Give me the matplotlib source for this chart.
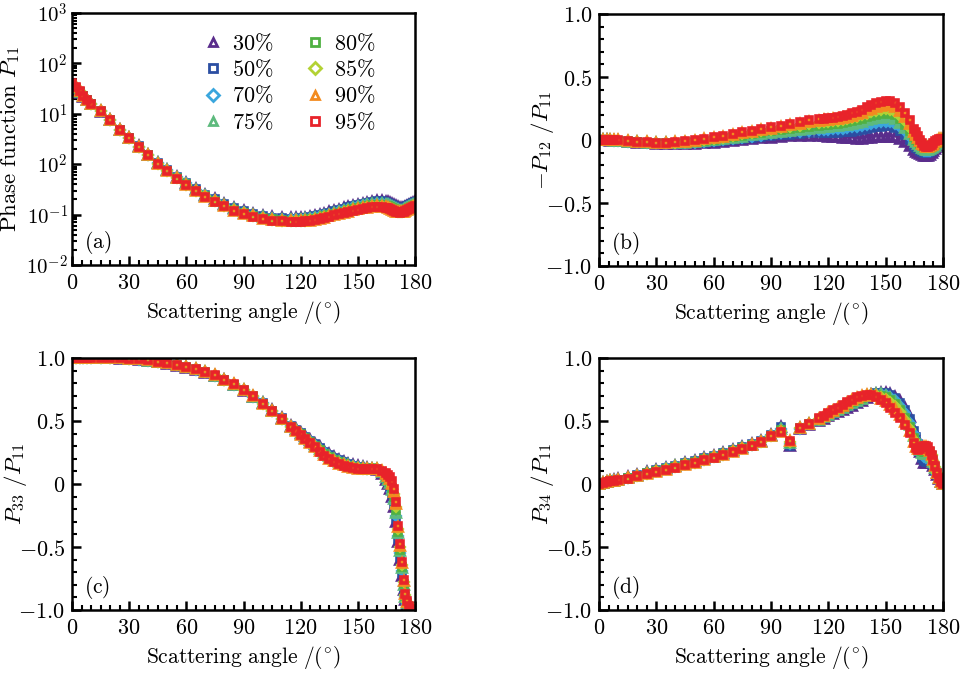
import matplotlib
matplotlib.use("Agg")
import matplotlib.pyplot as plt
from matplotlib.ticker import FixedLocator, MultipleLocator, LogLocator, NullFormatter

plt.rcParams['mathtext.fontset'] = 'cm'
plt.rcParams['font.family'] = 'serif'
plt.rcParams['axes.linewidth'] = 1.8

# scattering angles (deg), shared by all series
angles = [0, 2, 4, 6, 8, 10,
          15, 20, 25, 30, 35, 40, 45, 50, 55, 60, 65, 70, 75, 80, 85, 90, 95, 100, 105, 110,
          115, 117.5, 120, 122.5, 125, 127.5, 130, 132.5, 135, 137.5, 140, 142.5, 145, 147.5,
          150, 152.5, 155, 157.5, 160, 162.5, 165,
          166, 167, 168, 169, 170, 171, 172, 173, 174, 175, 176, 177, 178, 179, 180]

labels = ['30%', '50%', '70%', '75%', '80%', '85%', '90%', '95%']
colors = ['#5a2d8c', '#2b4ea2', '#3aa6dd', '#5dba7d', '#4fb142', '#b3d234', '#f38b1f', '#e8232a']
markers = ['^', 's', 'D', '^', 's', 'D', '^', 's']

# (a) phase function P11, one row per series (legend order)
p11 = [
    [33, 30, 26, 22, 18.5, 15.5,
     11, 7.4, 4.8, 3.3, 2.25, 1.55, 1.07, 0.78, 0.57, 0.43, 0.32, 0.25, 0.2, 0.163, 0.136, 0.117, 0.103, 0.094, 0.088, 0.085,
     0.084, 0.084, 0.085, 0.087, 0.09, 0.094, 0.099, 0.105, 0.111, 0.118, 0.125, 0.133, 0.141, 0.149, 0.157, 0.165, 0.172, 0.179, 0.185, 0.186, 0.18,
     0.175, 0.168, 0.16, 0.152, 0.145, 0.139, 0.135, 0.135, 0.138, 0.143, 0.149, 0.156, 0.163, 0.17, 0.178],
    [34, 31, 26.5, 22.5, 18.8, 15.7,
     11.1, 7.4, 4.8, 3.3, 2.25, 1.55, 1.07, 0.78, 0.57, 0.43, 0.32, 0.25, 0.2, 0.162, 0.135, 0.116, 0.102, 0.093, 0.087, 0.084,
     0.083, 0.083, 0.084, 0.086, 0.089, 0.093, 0.098, 0.103, 0.109, 0.116, 0.123, 0.131, 0.139, 0.147, 0.155, 0.162, 0.169, 0.176, 0.182, 0.183, 0.177,
     0.172, 0.165, 0.157, 0.15, 0.143, 0.137, 0.133, 0.133, 0.136, 0.141, 0.147, 0.154, 0.161, 0.168, 0.175],
    [35, 32, 27, 22.8, 18.9, 15.8,
     11.2, 7.5, 4.8, 3.3, 2.24, 1.54, 1.05, 0.76, 0.55, 0.415, 0.31, 0.24, 0.193, 0.157, 0.13, 0.112, 0.099, 0.09, 0.084, 0.081,
     0.08, 0.08, 0.081, 0.082, 0.085, 0.089, 0.093, 0.098, 0.104, 0.11, 0.117, 0.124, 0.131, 0.139, 0.146, 0.153, 0.16, 0.166, 0.171, 0.172, 0.166,
     0.161, 0.155, 0.148, 0.141, 0.134, 0.129, 0.125, 0.125, 0.128, 0.133, 0.139, 0.146, 0.153, 0.16, 0.167],
    [36, 32.5, 27.3, 22.9, 19, 15.9,
     11.3, 7.5, 4.8, 3.3, 2.23, 1.53, 1.04, 0.75, 0.54, 0.41, 0.305, 0.236, 0.19, 0.154, 0.127, 0.11, 0.097, 0.088, 0.082, 0.079,
     0.078, 0.078, 0.079, 0.08, 0.083, 0.086, 0.09, 0.095, 0.1, 0.106, 0.112, 0.119, 0.126, 0.133, 0.14, 0.147, 0.153, 0.159, 0.163, 0.164, 0.158,
     0.153, 0.147, 0.14, 0.134, 0.128, 0.123, 0.12, 0.12, 0.123, 0.127, 0.133, 0.14, 0.147, 0.154, 0.161],
    [37, 33, 27.6, 23, 19, 16,
     11.4, 7.5, 4.8, 3.3, 2.22, 1.52, 1.03, 0.74, 0.535, 0.4, 0.3, 0.233, 0.187, 0.151, 0.124, 0.108, 0.095, 0.086, 0.08, 0.077,
     0.076, 0.076, 0.077, 0.078, 0.08, 0.083, 0.087, 0.092, 0.097, 0.102, 0.108, 0.115, 0.121, 0.128, 0.134, 0.141, 0.147, 0.152, 0.156, 0.156, 0.151,
     0.146, 0.14, 0.134, 0.128, 0.122, 0.118, 0.115, 0.115, 0.118, 0.122, 0.128, 0.134, 0.141, 0.148, 0.155],
    [38, 33.5, 27.8, 23, 19, 16,
     11.4, 7.6, 4.8, 3.3, 2.21, 1.51, 1.02, 0.73, 0.53, 0.395, 0.295, 0.23, 0.184, 0.148, 0.122, 0.106, 0.093, 0.084, 0.078, 0.075,
     0.074, 0.074, 0.075, 0.076, 0.078, 0.081, 0.085, 0.089, 0.094, 0.099, 0.105, 0.111, 0.117, 0.124, 0.13, 0.136, 0.141, 0.146, 0.149, 0.149, 0.144,
     0.139, 0.134, 0.128, 0.122, 0.117, 0.114, 0.112, 0.113, 0.116, 0.12, 0.125, 0.131, 0.138, 0.145, 0.152],
    [39, 34, 28, 23, 19, 16,
     11.5, 7.6, 4.8, 3.3, 2.2, 1.5, 1.01, 0.725, 0.525, 0.39, 0.292, 0.227, 0.182, 0.146, 0.12, 0.104, 0.092, 0.083, 0.077, 0.074,
     0.073, 0.073, 0.073, 0.074, 0.076, 0.079, 0.083, 0.087, 0.092, 0.097, 0.103, 0.109, 0.115, 0.121, 0.127, 0.133, 0.138, 0.142, 0.145, 0.144, 0.14,
     0.135, 0.13, 0.125, 0.12, 0.115, 0.112, 0.111, 0.112, 0.115, 0.119, 0.124, 0.13, 0.137, 0.144, 0.151],
    [40, 34, 28, 23, 19, 16,
     11.5, 7.6, 4.8, 3.3, 2.2, 1.5, 1.0, 0.72, 0.52, 0.385, 0.29, 0.225, 0.18, 0.145, 0.119, 0.103, 0.091, 0.082, 0.076, 0.073,
     0.072, 0.072, 0.072, 0.073, 0.075, 0.078, 0.082, 0.086, 0.091, 0.096, 0.102, 0.108, 0.114, 0.12, 0.126, 0.131, 0.136, 0.14, 0.143, 0.142, 0.137,
     0.133, 0.128, 0.123, 0.118, 0.114, 0.111, 0.11, 0.111, 0.114, 0.118, 0.123, 0.129, 0.136, 0.143, 0.15],
]

# (b) -P12/P11
p12 = [
    [0, 0, 0, -0.005, -0.008, -0.01,
     -0.015, -0.02, -0.025, -0.03, -0.032, -0.033, -0.032, -0.03, -0.027, -0.022, -0.017, -0.01, -0.003, 0.005, 0.012, 0.018, 0.024, 0.028, 0.031, 0.032,
     0.031, 0.029, 0.027, 0.024, 0.02, 0.017, 0.014, 0.012, 0.011, 0.011, 0.013, 0.016, 0.02, 0.024, 0.027, 0.026, 0.02, 0.005, -0.015, -0.045, -0.08,
     -0.092, -0.103, -0.112, -0.12, -0.125, -0.127, -0.125, -0.118, -0.105, -0.09, -0.072, -0.055, -0.037, -0.02, 0.0],
    [0, 0, 0, -0.004, -0.007, -0.009,
     -0.014, -0.019, -0.024, -0.028, -0.03, -0.03, -0.028, -0.025, -0.021, -0.015, -0.009, -0.002, 0.006, 0.014, 0.022, 0.03, 0.037, 0.043, 0.048, 0.052,
     0.055, 0.056, 0.057, 0.058, 0.059, 0.06, 0.062, 0.066, 0.071, 0.078, 0.085, 0.092, 0.1, 0.106, 0.11, 0.108, 0.098, 0.075, 0.04, 0.0, -0.045,
     -0.06, -0.073, -0.085, -0.095, -0.102, -0.105, -0.104, -0.098, -0.087, -0.073, -0.057, -0.041, -0.026, -0.012, 0.0],
    [0, 0, 0, -0.003, -0.006, -0.008,
     -0.013, -0.018, -0.022, -0.026, -0.027, -0.026, -0.024, -0.02, -0.015, -0.008, -0.001, 0.008, 0.017, 0.026, 0.035, 0.044, 0.052, 0.06, 0.066, 0.072,
     0.077, 0.08, 0.083, 0.085, 0.088, 0.091, 0.095, 0.1, 0.106, 0.113, 0.12, 0.127, 0.134, 0.139, 0.142, 0.14, 0.128, 0.104, 0.068, 0.025, -0.02,
     -0.037, -0.052, -0.066, -0.077, -0.085, -0.089, -0.089, -0.085, -0.076, -0.064, -0.05, -0.036, -0.023, -0.011, 0.0],
    [0, 0, 0, -0.002, -0.005, -0.007,
     -0.012, -0.017, -0.021, -0.024, -0.025, -0.024, -0.021, -0.016, -0.01, -0.003, 0.005, 0.015, 0.026, 0.036, 0.047, 0.057, 0.066, 0.075, 0.083, 0.09,
     0.097, 0.101, 0.105, 0.108, 0.112, 0.116, 0.121, 0.128, 0.136, 0.145, 0.155, 0.164, 0.172, 0.178, 0.182, 0.18, 0.166, 0.138, 0.097, 0.05, 0.0,
     -0.018, -0.035, -0.05, -0.062, -0.071, -0.076, -0.077, -0.074, -0.067, -0.056, -0.044, -0.031, -0.019, -0.008, 0.0],
    [0, 0, 0, -0.002, -0.004, -0.005,
     -0.011, -0.016, -0.02, -0.023, -0.024, -0.022, -0.018, -0.012, -0.005, 0.003, 0.012, 0.023, 0.035, 0.046, 0.058, 0.068, 0.079, 0.089, 0.098, 0.106,
     0.114, 0.118, 0.122, 0.126, 0.13, 0.135, 0.141, 0.149, 0.158, 0.169, 0.18, 0.19, 0.2, 0.207, 0.211, 0.209, 0.195, 0.165, 0.122, 0.072, 0.02,
     0.0, -0.018, -0.034, -0.047, -0.057, -0.063, -0.065, -0.063, -0.057, -0.047, -0.036, -0.024, -0.013, -0.004, 0.0],
    [0, 0, 0, -0.001, -0.002, -0.003,
     -0.01, -0.015, -0.019, -0.022, -0.022, -0.02, -0.015, -0.008, 0.0, 0.009, 0.019, 0.031, 0.044, 0.057, 0.069, 0.08, 0.093, 0.104, 0.115, 0.125,
     0.134, 0.139, 0.144, 0.148, 0.152, 0.158, 0.165, 0.174, 0.184, 0.196, 0.209, 0.22, 0.231, 0.239, 0.244, 0.242, 0.226, 0.194, 0.148, 0.096, 0.04,
     0.018, 0.0, -0.017, -0.031, -0.042, -0.05, -0.053, -0.052, -0.047, -0.038, -0.027, -0.016, -0.006, 0.002, 0.0],
    [0, 0, 0, 0, -0.001, -0.002,
     -0.01, -0.014, -0.018, -0.021, -0.021, -0.019, -0.012, -0.004, 0.005, 0.014, 0.025, 0.038, 0.052, 0.066, 0.08, 0.09, 0.104, 0.117, 0.128, 0.14,
     0.15, 0.155, 0.16, 0.163, 0.167, 0.174, 0.183, 0.193, 0.205, 0.218, 0.235, 0.248, 0.261, 0.27, 0.277, 0.276, 0.26, 0.23, 0.181, 0.128, 0.065,
     0.04, 0.015, -0.008, -0.028, -0.043, -0.052, -0.054, -0.051, -0.043, -0.031, -0.018, -0.007, 0.004, 0.007, 0.0],
    [0, 0, 0, 0, 0, 0,
     -0.01, -0.013, -0.018, -0.02, -0.02, -0.018, -0.01, 0.0, 0.01, 0.02, 0.03, 0.045, 0.06, 0.075, 0.09, 0.1, 0.115, 0.13, 0.14, 0.155,
     0.165, 0.17, 0.175, 0.178, 0.182, 0.19, 0.2, 0.212, 0.225, 0.24, 0.26, 0.275, 0.29, 0.3, 0.31, 0.31, 0.295, 0.265, 0.215, 0.16, 0.09,
     0.06, 0.03, 0.0, -0.025, -0.045, -0.055, -0.055, -0.05, -0.04, -0.025, -0.01, 0.0, 0.01, 0.01, 0.0],
]

# (c) P33/P11
p33 = [
    [1, 1, 1, 1, 1, 1,
     1.0, 0.999, 0.996, 0.992, 0.986, 0.977, 0.966, 0.954, 0.94, 0.923, 0.905, 0.883, 0.856, 0.823, 0.786, 0.742, 0.694, 0.64, 0.584, 0.522,
     0.462, 0.434, 0.406, 0.377, 0.348, 0.319, 0.29, 0.262, 0.237, 0.214, 0.194, 0.177, 0.162, 0.15, 0.14, 0.132, 0.126, 0.12, 0.112, 0.08, 0.03,
     0.0, -0.04, -0.1, -0.18, -0.3, -0.46, -0.6, -0.73, -0.84, -0.92, -0.96, -0.985, -0.995, -1.0, -1.0],
    [1, 1, 1, 1, 1, 1,
     1.0, 0.999, 0.996, 0.992, 0.986, 0.977, 0.966, 0.954, 0.94, 0.923, 0.905, 0.883, 0.856, 0.823, 0.786, 0.742, 0.694, 0.64, 0.583, 0.52,
     0.46, 0.431, 0.403, 0.373, 0.344, 0.314, 0.285, 0.257, 0.232, 0.209, 0.189, 0.172, 0.158, 0.146, 0.137, 0.129, 0.124, 0.121, 0.115, 0.085, 0.04,
     0.012, -0.025, -0.083, -0.16, -0.28, -0.44, -0.58, -0.71, -0.83, -0.91, -0.955, -0.98, -0.995, -1.0, -1.0],
    [1, 1, 1, 1, 1, 1,
     1.0, 0.999, 0.997, 0.993, 0.988, 0.979, 0.969, 0.957, 0.943, 0.926, 0.908, 0.886, 0.858, 0.825, 0.788, 0.743, 0.694, 0.639, 0.582, 0.518,
     0.457, 0.428, 0.399, 0.369, 0.339, 0.309, 0.279, 0.25, 0.225, 0.202, 0.182, 0.166, 0.152, 0.141, 0.133, 0.127, 0.123, 0.122, 0.118, 0.09, 0.05,
     0.025, -0.01, -0.065, -0.14, -0.25, -0.41, -0.55, -0.69, -0.81, -0.9, -0.95, -0.98, -0.993, -1.0, -1.0],
    [1, 1, 1, 1, 1, 1,
     1.0, 1.0, 0.997, 0.994, 0.989, 0.98, 0.97, 0.958, 0.945, 0.928, 0.91, 0.888, 0.86, 0.826, 0.788, 0.744, 0.694, 0.639, 0.581, 0.517,
     0.456, 0.426, 0.397, 0.366, 0.336, 0.305, 0.274, 0.245, 0.219, 0.197, 0.177, 0.161, 0.148, 0.138, 0.13, 0.125, 0.122, 0.123, 0.121, 0.093, 0.058,
     0.035, 0.005, -0.05, -0.12, -0.23, -0.39, -0.53, -0.67, -0.8, -0.9, -0.948, -0.978, -0.993, -1.0, -1.0],
    [1, 1, 1, 1, 1, 1,
     1.0, 1.0, 0.998, 0.994, 0.99, 0.981, 0.971, 0.959, 0.946, 0.929, 0.911, 0.889, 0.861, 0.827, 0.789, 0.744, 0.695, 0.638, 0.581, 0.516,
     0.455, 0.424, 0.395, 0.363, 0.332, 0.301, 0.27, 0.24, 0.214, 0.192, 0.172, 0.157, 0.145, 0.135, 0.128, 0.124, 0.122, 0.124, 0.123, 0.096, 0.065,
     0.045, 0.018, -0.035, -0.1, -0.21, -0.38, -0.52, -0.66, -0.79, -0.89, -0.945, -0.977, -0.992, -1.0, -1.0],
    [1, 1, 1, 1, 1, 1,
     1.0, 1.0, 0.998, 0.995, 0.99, 0.982, 0.972, 0.96, 0.947, 0.93, 0.912, 0.89, 0.862, 0.828, 0.79, 0.745, 0.695, 0.638, 0.58, 0.515,
     0.453, 0.422, 0.392, 0.36, 0.328, 0.297, 0.265, 0.234, 0.208, 0.186, 0.167, 0.152, 0.14, 0.131, 0.125, 0.121, 0.12, 0.122, 0.123, 0.099, 0.073,
     0.055, 0.03, -0.015, -0.08, -0.18, -0.36, -0.5, -0.64, -0.78, -0.88, -0.94, -0.975, -0.991, -1.0, -1.0],
    [1, 1, 1, 1, 1, 1,
     1.0, 1.0, 0.998, 0.995, 0.99, 0.982, 0.972, 0.96, 0.947, 0.93, 0.912, 0.89, 0.862, 0.828, 0.79, 0.745, 0.695, 0.638, 0.58, 0.515,
     0.452, 0.42, 0.39, 0.357, 0.325, 0.293, 0.26, 0.228, 0.202, 0.18, 0.161, 0.147, 0.136, 0.127, 0.121, 0.118, 0.118, 0.12, 0.122, 0.102, 0.082,
     0.065, 0.043, 0.003, -0.06, -0.16, -0.345, -0.49, -0.63, -0.77, -0.875, -0.935, -0.972, -0.99, -1.0, -1.0],
    [1, 1, 1, 1, 1, 1,
     1.0, 1.0, 0.998, 0.995, 0.99, 0.982, 0.972, 0.96, 0.947, 0.93, 0.912, 0.89, 0.862, 0.828, 0.79, 0.745, 0.695, 0.638, 0.58, 0.515,
     0.45, 0.418, 0.388, 0.355, 0.322, 0.29, 0.256, 0.222, 0.196, 0.175, 0.156, 0.142, 0.132, 0.124, 0.118, 0.116, 0.116, 0.118, 0.12, 0.105, 0.09,
     0.075, 0.055, 0.02, -0.04, -0.14, -0.33, -0.48, -0.62, -0.76, -0.87, -0.93, -0.97, -0.99, -1.0, -1.0],
]

# (d) P34/P11
p34 = [
    [0, 0.008, 0.016, 0.023, 0.03, 0.036,
     0.052, 0.072, 0.092, 0.11, 0.128, 0.146, 0.165, 0.182, 0.205, 0.225, 0.245, 0.27, 0.293, 0.317, 0.342, 0.39, 0.455, 0.3, 0.435, 0.468,
     0.5, 0.518, 0.537, 0.555, 0.573, 0.59, 0.606, 0.622, 0.64, 0.66, 0.683, 0.703, 0.718, 0.726, 0.724, 0.713, 0.69, 0.655, 0.6, 0.53, 0.43,
     0.38, 0.32, 0.25, 0.2, 0.17, 0.165, 0.175, 0.18, 0.17, 0.14, 0.11, 0.075, 0.04, 0.012, 0.0],
    [0, 0.008, 0.016, 0.022, 0.029, 0.035,
     0.051, 0.071, 0.091, 0.109, 0.127, 0.145, 0.164, 0.18, 0.203, 0.223, 0.243, 0.268, 0.291, 0.315, 0.34, 0.389, 0.45, 0.305, 0.437, 0.47,
     0.503, 0.521, 0.54, 0.558, 0.576, 0.594, 0.61, 0.627, 0.645, 0.665, 0.688, 0.706, 0.72, 0.726, 0.722, 0.709, 0.683, 0.645, 0.588, 0.515, 0.42,
     0.37, 0.315, 0.255, 0.21, 0.18, 0.175, 0.185, 0.19, 0.178, 0.148, 0.115, 0.078, 0.042, 0.013, 0.0],
    [0, 0.008, 0.015, 0.022, 0.028, 0.034,
     0.049, 0.069, 0.088, 0.106, 0.124, 0.142, 0.161, 0.177, 0.2, 0.22, 0.239, 0.265, 0.289, 0.313, 0.338, 0.386, 0.44, 0.315, 0.44, 0.473,
     0.507, 0.525, 0.545, 0.563, 0.582, 0.6, 0.618, 0.635, 0.653, 0.672, 0.694, 0.708, 0.717, 0.718, 0.71, 0.693, 0.663, 0.622, 0.562, 0.487, 0.395,
     0.35, 0.31, 0.265, 0.235, 0.215, 0.21, 0.215, 0.215, 0.2, 0.165, 0.125, 0.083, 0.045, 0.014, 0.0],
    [0, 0.008, 0.015, 0.021, 0.027, 0.033,
     0.048, 0.067, 0.086, 0.104, 0.122, 0.14, 0.159, 0.175, 0.198, 0.218, 0.237, 0.263, 0.287, 0.311, 0.336, 0.384, 0.435, 0.322, 0.441, 0.475,
     0.51, 0.528, 0.549, 0.568, 0.587, 0.606, 0.624, 0.642, 0.66, 0.678, 0.698, 0.709, 0.714, 0.712, 0.702, 0.683, 0.651, 0.608, 0.547, 0.47, 0.38,
     0.34, 0.305, 0.27, 0.245, 0.235, 0.235, 0.24, 0.235, 0.215, 0.175, 0.13, 0.085, 0.046, 0.014, 0.0],
    [0, 0.007, 0.015, 0.021, 0.027, 0.032,
     0.047, 0.066, 0.084, 0.102, 0.12, 0.138, 0.157, 0.173, 0.196, 0.216, 0.235, 0.261, 0.285, 0.309, 0.334, 0.382, 0.43, 0.328, 0.442, 0.476,
     0.513, 0.531, 0.553, 0.573, 0.592, 0.612, 0.63, 0.649, 0.667, 0.684, 0.701, 0.709, 0.709, 0.702, 0.69, 0.669, 0.635, 0.59, 0.527, 0.45, 0.365,
     0.325, 0.3, 0.275, 0.26, 0.255, 0.255, 0.258, 0.25, 0.225, 0.182, 0.135, 0.087, 0.047, 0.015, 0.0],
    [0, 0.007, 0.014, 0.02, 0.026, 0.031,
     0.045, 0.064, 0.082, 0.1, 0.118, 0.135, 0.155, 0.17, 0.194, 0.214, 0.232, 0.259, 0.283, 0.307, 0.332, 0.38, 0.422, 0.335, 0.443, 0.477,
     0.516, 0.534, 0.557, 0.578, 0.598, 0.618, 0.638, 0.657, 0.675, 0.69, 0.704, 0.708, 0.703, 0.69, 0.674, 0.651, 0.617, 0.573, 0.51, 0.435, 0.35,
     0.31, 0.29, 0.278, 0.275, 0.275, 0.275, 0.275, 0.255, 0.228, 0.185, 0.137, 0.088, 0.048, 0.015, 0.0],
    [0, 0.007, 0.014, 0.02, 0.025, 0.03,
     0.044, 0.062, 0.08, 0.097, 0.115, 0.132, 0.152, 0.167, 0.192, 0.212, 0.23, 0.257, 0.281, 0.306, 0.331, 0.379, 0.416, 0.34, 0.444, 0.478,
     0.518, 0.537, 0.56, 0.582, 0.602, 0.623, 0.644, 0.664, 0.682, 0.695, 0.706, 0.707, 0.696, 0.678, 0.657, 0.629, 0.592, 0.55, 0.49, 0.42, 0.337,
     0.297, 0.28, 0.277, 0.287, 0.292, 0.292, 0.287, 0.258, 0.229, 0.188, 0.139, 0.089, 0.049, 0.015, 0.0],
    [0, 0.007, 0.014, 0.02, 0.025, 0.03,
     0.042, 0.06, 0.078, 0.095, 0.113, 0.13, 0.15, 0.165, 0.19, 0.21, 0.228, 0.255, 0.28, 0.305, 0.33, 0.378, 0.41, 0.345, 0.445, 0.48,
     0.52, 0.54, 0.563, 0.585, 0.605, 0.628, 0.65, 0.67, 0.688, 0.7, 0.708, 0.705, 0.688, 0.665, 0.64, 0.607, 0.567, 0.527, 0.47, 0.405, 0.325,
     0.285, 0.27, 0.275, 0.295, 0.305, 0.305, 0.295, 0.26, 0.23, 0.19, 0.14, 0.09, 0.05, 0.015, 0.0],
]

for block in (p11, p12, p33, p34):
    for row in block:
        assert len(row) == len(angles), len(row)

fs = 16          # tick labels
lab_fs = 15.5    # axis labels
xlab = r'$\mathrm{Scattering\ angle\ /(^{\circ})}$'


def style_axis(ax, tag):
    ax.set_xlim(0, 180)
    ax.set_xticks([0, 30, 60, 90, 120, 150, 180])
    ax.set_xticklabels([r'$%d$' % v for v in [0, 30, 60, 90, 120, 150, 180]])
    ax.xaxis.set_minor_locator(MultipleLocator(5))
    ax.tick_params(which='both', direction='in', top=False, right=False, labelsize=fs, pad=5)
    ax.tick_params(which='major', length=6.5, width=1.8)
    ax.tick_params(which='minor', length=3.5, width=1.5)
    ax.set_xlabel(xlab, fontsize=lab_fs)
    ax.xaxis.set_label_coords(0.5, -0.135)
    ax.text(0.035, 0.035, r'$\mathrm{(%s)}$' % tag, transform=ax.transAxes, fontsize=lab_fs,
            ha='left', va='bottom')


def linear_y(ax, ylabel):
    ax.set_ylim(-1.0, 1.0)
    ax.set_yticks([-1.0, -0.5, 0, 0.5, 1.0])
    ax.set_yticklabels([r'$-1.0$', r'$-0.5$', r'$0$', r'$0.5$', r'$1.0$'])
    ax.yaxis.set_minor_locator(MultipleLocator(0.1))
    ax.set_ylabel(ylabel, fontsize=lab_fs + 1)
    ax.yaxis.set_label_coords(-0.125, 0.5)


def draw(ax, data):
    for i, vals in enumerate(data):
        ms = 4.8 if markers[i] == 's' else (4.4 if markers[i] == 'D' else 5.3)
        ax.plot(angles, vals, linestyle='none', marker=markers[i], markersize=ms,
                markerfacecolor='none', markeredgecolor=colors[i], markeredgewidth=2.6,
                label=r'$%s$' % labels[i].replace('%', r'\%'))


fig = plt.figure(figsize=(9.71, 6.75), dpi=100)
W, H = 971, 675
ax_a = fig.add_axes([72 / W, 1 - 265 / H, 343 / W, 252 / H])
ax_b = fig.add_axes([599 / W, 1 - 266 / H, 344 / W, 252 / H])
ax_c = fig.add_axes([72 / W, 1 - 610 / H, 343 / W, 252 / H])
ax_d = fig.add_axes([599 / W, 1 - 610 / H, 344 / W, 252 / H])

# (a)
draw(ax_a, p11)
ax_a.set_yscale('log')
ax_a.set_ylim(1e-2, 1e3)
ax_a.yaxis.set_major_locator(FixedLocator([1e-2, 1e-1, 1e0, 1e1, 1e2, 1e3]))
ax_a.yaxis.set_minor_locator(LogLocator(base=10, subs=range(2, 10)))
ax_a.yaxis.set_minor_formatter(NullFormatter())
ax_a.set_yticklabels([r'$10^{-2}$', r'$10^{-1}$', r'$10^{2}$', r'$10^{1}$', r'$10^{2}$', r'$10^{3}$'])
style_axis(ax_a, 'a')
ax_a.tick_params(axis='y', labelsize=15, pad=3)
ax_a.set_ylabel(r'$\mathrm{Phase\ function}\ P_{11}$', fontsize=lab_fs + 1)
ax_a.yaxis.set_label_coords(-0.145, 0.5)
leg = ax_a.legend(loc='upper left', bbox_to_anchor=(0.35, 0.975), ncol=2, frameon=False,
                  numpoints=1, handlelength=0.7, handletextpad=0.5, borderaxespad=0.2,
                  columnspacing=1.5, labelspacing=0.2, prop={'size': 16})
for h in leg.legend_handles:
    h.set_markeredgewidth(2.0)
    h.set_markersize(6)

# (b)
draw(ax_b, p12)
linear_y(ax_b, r'$-P_{12}\ /P_{11}$')
style_axis(ax_b, 'b')

# (c)
draw(ax_c, p33)
linear_y(ax_c, r'$P_{33}\ /P_{11}$')
style_axis(ax_c, 'c')

# (d)
draw(ax_d, p34)
linear_y(ax_d, r'$P_{34}\ /P_{11}$')
style_axis(ax_d, 'd')

fig.savefig('out.png', dpi=100)
